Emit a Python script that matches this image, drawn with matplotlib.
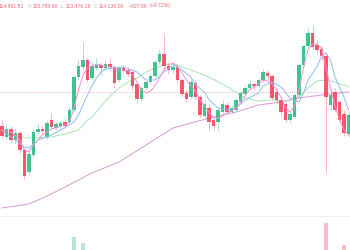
import numpy as np
import matplotlib.pyplot as plt
from matplotlib.lines import Line2D

# OHLC per candle (USD)
opens = [112960, 112520, 112840, 112400, 112680, 112000, 111120, 111800, 112720, 112840,
         112520, 113200, 112880, 112960, 113120, 113120, 113600, 114920, 115320, 115600,
         114880, 115280, 115400, 115280, 115440, 115320, 114800, 115280, 115200, 115120,
         114640, 114040, 114480, 114720, 114960, 115520, 115840, 115360, 115200, 115320,
         114800, 114280, 114120, 114680, 114120, 113360, 113680, 113200, 113120, 113520,
         113800, 113520, 113600, 113920, 114240, 114480, 114640, 114560, 114800, 115080,
         114960, 114320, 114000, 113840, 113200, 113320, 114200, 115400, 116160, 116680,
         116200, 116040, 115760, 113800, 114320, 113920, 113440, 112640]
closes = [112560, 112840, 112400, 112680, 112000, 110960, 111840, 112720, 112840, 112760,
          113080, 112920, 113040, 113080, 112960, 113600, 114920, 115360, 115600, 114800,
          115360, 115400, 115280, 115440, 115320, 114680, 115280, 115160, 115040, 114560,
          114040, 114480, 114720, 114960, 115520, 115840, 115360, 115200, 115320, 114800,
          114240, 114040, 114720, 114120, 113400, 113840, 113120, 112960, 113600, 113840,
          113520, 113680, 114000, 114280, 114480, 114640, 114560, 114800, 115120, 114960,
          114080, 114000, 113520, 113200, 113440, 114200, 115400, 116160, 116680, 116120,
          116000, 115760, 114120, 114200, 113600, 113200, 112680, 113400]
highs = [113200, 113040, 112960, 112880, 112760, 112080, 112000, 112880, 113040, 112960,
         113200, 113480, 113160, 113200, 113240, 113720, 115000, 115600, 116320, 115720,
         115520, 115680, 115520, 115600, 115680, 115400, 115360, 115400, 115320, 115200,
         114720, 114560, 114800, 115040, 115600, 116000, 116600, 115520, 115440, 115440,
         114880, 114400, 114880, 114800, 114200, 114000, 113800, 113280, 113680, 114000,
         113920, 113800, 114080, 114400, 114560, 114800, 114720, 114880, 115240, 115200,
         115040, 114480, 114080, 113920, 113520, 114280, 115480, 116240, 116880, 117000,
         116400, 116160, 115840, 114400, 114480, 114000, 113600, 113520]
lows = [112480, 112440, 112280, 112240, 111880, 110840, 111000, 111720, 112640, 112640,
        112440, 112840, 112800, 112880, 112880, 113040, 113520, 114800, 115200, 114720,
        114800, 115200, 115000, 115200, 115200, 114480, 114720, 115080, 114960, 114400,
        113840, 113920, 114400, 114640, 114880, 115440, 115280, 115040, 115080, 114680,
        114120, 113920, 114040, 114000, 113280, 113280, 112800, 112840, 112800, 113400,
        113440, 113440, 113520, 113840, 114160, 114400, 114400, 114480, 114720, 114800,
        114000, 113840, 113400, 113120, 113120, 113280, 114080, 115320, 116080, 116040,
        115880, 115600, 111080, 113600, 113520, 113080, 112560, 112520]
volumes = [260, 220, 240, 200, 330, 520, 480, 360, 210, 180,
           300, 260, 190, 170, 200, 380, 750, 560, 680, 420,
           330, 240, 220, 200, 230, 360, 300, 190, 180, 300,
           400, 350, 260, 250, 380, 420, 500, 280, 220, 310,
           380, 300, 360, 320, 430, 380, 400, 280, 360, 300,
           240, 200, 260, 280, 240, 220, 180, 230, 300, 260,
           420, 330, 380, 400, 310, 480, 540, 500, 450, 480,
           380, 360, 920, 500, 560, 580, 655, 420]

# moving averages (candle index, USD)
ma_fast_i = [0, 2, 4, 5, 6, 7, 9, 11, 14, 15, 16, 17, 18, 19, 21, 24, 26, 28, 29, 30,
             31, 32, 33, 34, 35, 36, 37, 38, 39, 40, 41, 42, 43, 44, 45, 46, 47, 48, 49, 50,
             51, 52, 53, 54, 55, 56, 57, 58, 59, 60, 61, 62, 63, 64, 65, 66, 67, 68, 69, 70,
             71, 72, 73, 74, 75, 76, 77]
ma_fast = [112800, 112720, 112400, 112000, 111920, 112200, 112600, 112840, 113000, 113120,
           113680, 114400, 115000, 115280, 115440, 115320, 115200, 115160, 115000, 114720,
           114400, 114280, 114360, 114560, 114880, 115200, 115400, 115480, 115360, 115080,
           114800, 114560, 114360, 114000, 113760, 113520, 113280, 113280, 113360, 113480,
           113560, 113680, 113880, 114160, 114400, 114520, 114640, 114800, 114760, 114640,
           114400, 114120, 113680, 113520, 113760, 114400, 115320, 116000, 116240, 116240,
           116080, 115280, 114480, 113760, 113200, 112800, 112600]
ma_mid_i = [0, 2, 5, 6, 8, 11, 13, 15, 16, 17, 18, 19, 20, 21, 22, 23, 25, 27, 30, 32,
            34, 36, 38, 40, 42, 43, 45, 46, 48, 50, 52, 54, 57, 58, 60, 62, 64, 66, 67, 68,
            70, 71, 72, 73, 74, 76, 77]
ma_mid = [112800, 112520, 112120, 112080, 112400, 112600, 112800, 113000, 113120, 113400,
          113800, 114200, 114560, 114880, 115120, 115240, 115280, 115320, 115120, 114800,
          114800, 115120, 115400, 115200, 114920, 114600, 114320, 114000, 113680, 113600,
          113680, 114000, 114280, 114560, 114720, 114520, 114080, 113920, 114280, 114800,
          115320, 115760, 115880, 115600, 114920, 114120, 113600]
ma_slow_i = [0, 2, 6, 11, 14, 17, 19, 20, 24, 26, 28, 30, 32, 36, 38, 42, 46, 49, 52, 54,
             57, 60, 63, 66, 68, 70, 72, 74, 77]
ma_slow = [112800, 112600, 112480, 112520, 112640, 112800, 113200, 113320, 114160, 114480,
           114720, 114880, 115120, 115400, 115440, 115200, 114920, 114640, 114320, 114080,
           113960, 114000, 113960, 114120, 114480, 114760, 114800, 114720, 114520]
ma_long_i = [0, 3, 6, 10, 14, 17, 20, 26, 32, 38, 42, 47, 52, 57, 62, 66, 71, 77]
ma_long = [109680, 109760, 109840, 110160, 110520, 110800, 111080, 111520, 112200, 112880,
           113080, 113320, 113520, 113800, 113920, 114080, 114200, 114320]

price_line = 114320

# header: (text, is_label)
header = [("114,961.51", False), ("H", True), ("115,785.00", False), ("L", True),
          ("113,476.19", False), ("C", True), ("114,130.00", False),
          ("\u2212827.66", False), ("(\u22120.72%)", False)]

UP = "#2ebd85"
DOWN = "#f6465d"

opens = np.array(opens)
closes = np.array(closes)
highs = np.array(highs)
lows = np.array(lows)
x = np.arange(len(opens))
up = closes >= opens
col = np.where(up, UP, DOWN)

fig = plt.figure(figsize=(3.5, 2.5), dpi=100)
ax = fig.add_axes([0, 34 / 250, 1, 216 / 250])
vax = fig.add_axes([0, -50 / 250, 1, 84 / 250])

# MA lines
ax.plot(ma_long_i, ma_long, color="#d99ad9", lw=0.7, zorder=1)
ax.plot(ma_slow_i, ma_slow, color="#a6e6ae", lw=0.7, zorder=1)
ax.plot(ma_mid_i, ma_mid, color="#8ebcf2", lw=0.7, zorder=3)
ax.plot(ma_fast_i, ma_fast, color="#f58fd2", lw=0.7, zorder=3)

ax.axhline(price_line, color="#f6a0aa", lw=0.6, ls=(0, (1, 1.5)), zorder=0)

# candles
ax.vlines(x, lows, highs, colors=col, lw=0.6, alpha=0.45, zorder=2)
ax.bar(x, np.abs(closes - opens), bottom=np.minimum(opens, closes),
       width=0.68, color=col, alpha=0.9, zorder=2, linewidth=0)

ax.set_xlim(-0.44, 77.33)
ax.set_ylim(109360, 118000)
ax.axis("off")

# volume pane, mostly below the visible edge
vax.bar(x, volumes, width=0.68, color=col, alpha=0.35, linewidth=0)
vax.set_xlim(-0.44, 77.33)
vax.set_ylim(0, 1000)
vax.axis("off")

fig.add_artist(Line2D([0, 1], [34 / 250, 34 / 250], color="#eeeeee", lw=0.6))

# header pieces chained left to right
fs = 3.7
t = fig.text(-1 / 350, 1 - 6 / 250, header[0][0], color=DOWN, alpha=0.85,
             fontsize=fs, family="Liberation Sans", va="center", ha="left")
prev_label = False
for txt, is_label in header[1:]:
    if is_label:
        gap = 2.2
    elif prev_label:
        gap = 1.1
    elif txt.startswith("\u2212"):
        gap = 3.0
    else:
        gap = 1.5
    t = ax.annotate(txt, xy=(1, 0.5), xycoords=t, xytext=(gap, 0),
                    textcoords="offset points", va="center", ha="left",
                    color="#b0b0b0" if is_label else DOWN, alpha=0.85,
                    fontsize=fs, family="Liberation Sans", annotation_clip=False)
    prev_label = is_label

fig.savefig("out.png", dpi=100, facecolor="white")
